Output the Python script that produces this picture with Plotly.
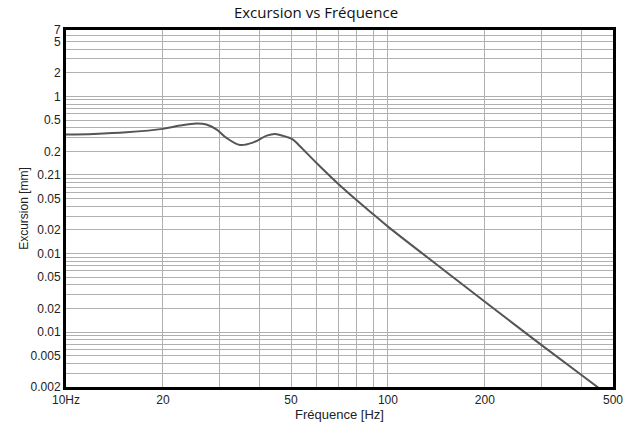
import plotly.graph_objects as go

# Curve data
freq_hz = [10, 12.2, 15.4, 20, 22.6, 25.5, 27.3, 29.4, 31.5, 34.7, 38.2, 42.0, 44.6,
           48.4, 50.7, 53.3, 60, 70, 80, 90, 100, 150, 200, 300, 400, 500]
excursion_mm = [0.327, 0.333, 0.349, 0.386, 0.425, 0.451, 0.438, 0.378, 0.296, 0.241,
                0.260, 0.317, 0.333, 0.305, 0.282, 0.232, 0.142, 0.0773, 0.0476, 0.0316,
                0.022, 0.00605, 0.00243, 0.000682, 0.000282, 0.000142]

# X axis ticks (gridlines) and labels
x_tick_vals = [10, 20, 30, 40, 50, 60, 70, 80, 90, 100, 200, 300, 400, 500]
x_tick_text = ["10Hz", "20", "", "", "50", "", "", "", "", "100", "200", "", "", "500"]

# Y axis labelled ticks (labels as printed on the chart)
y_label_vals = [7, 5, 2, 1, 0.5, 0.2, 0.1, 0.05, 0.02, 0.01, 0.005, 0.002, 0.001, 0.0005, 0.0002]
y_label_text = ["7", "5", "2", "1", "0.5", "0.2", "0.21", "0.05", "0.02", "0.01",
                "0.05", "0.02", "0.01", "0.005", "0.002"]

# Y minor gridlines (every m * 10^k)
y_grid_vals = []
for k in range(-4, 1):
    for m in range(1, 10):
        v = round(m * 10 ** k, 6)
        if 0.0002 <= v <= 7:
            y_grid_vals.append(v)
y_all_vals = sorted(set(y_grid_vals) | set(y_label_vals))
lab = dict(zip(y_label_vals, y_label_text))
y_all_text = [lab.get(v, "") for v in y_all_vals]

fig = go.Figure()
fig.add_trace(go.Scatter(
    x=freq_hz, y=excursion_mm, mode="lines",
    line=dict(color="#555555", width=2, shape="spline", smoothing=1.0),
    hoverinfo="skip", showlegend=False,
))

fig.update_layout(
    width=632, height=422,
    margin=dict(l=66, r=19, t=30, b=35),
    paper_bgcolor="white", plot_bgcolor="white",
    title=dict(text="Excursion vs Fréquence", x=0.5, xanchor="center",
               y=0.983, yanchor="top", automargin=False,
               font=dict(family="Open Sans", size=15, color="#111111")),
    showlegend=False,
)

fig.update_xaxes(
    type="log", range=[1, 2.69897], automargin=False,
    tickmode="array", tickvals=x_tick_vals, ticktext=x_tick_text,
    tickfont=dict(family="Liberation Sans Narrow, Liberation Sans", size=12, color="#222222"),
    ticks="", ticklen=0,
    showgrid=True, gridcolor="#b0b0b0", gridwidth=1,
    showline=True, linecolor="black", linewidth=3, mirror=True,
    zeroline=False,
    title=dict(text="Fréquence [Hz]", standoff=0,
               font=dict(family="Liberation Sans", size=13, color="#222222")),
)

fig.update_yaxes(
    type="log", range=[-3.69897, 0.845098], automargin=False,
    tickmode="array", tickvals=y_all_vals, ticktext=y_all_text,
    tickfont=dict(family="Liberation Sans", size=12, color="#222222"),
    ticks="", ticklen=0,
    showgrid=True, gridcolor="#b0b0b0", gridwidth=1,
    showline=True, linecolor="black", linewidth=3, mirror=True,
    zeroline=False,
    title=dict(text="Excursion [mm]", standoff=0,
               font=dict(family="Liberation Sans", size=12, color="#222222")),
)

fig.write_html("out.html", config={"displayModeBar": False},
               post_script="document.body.style.margin='0px';")
